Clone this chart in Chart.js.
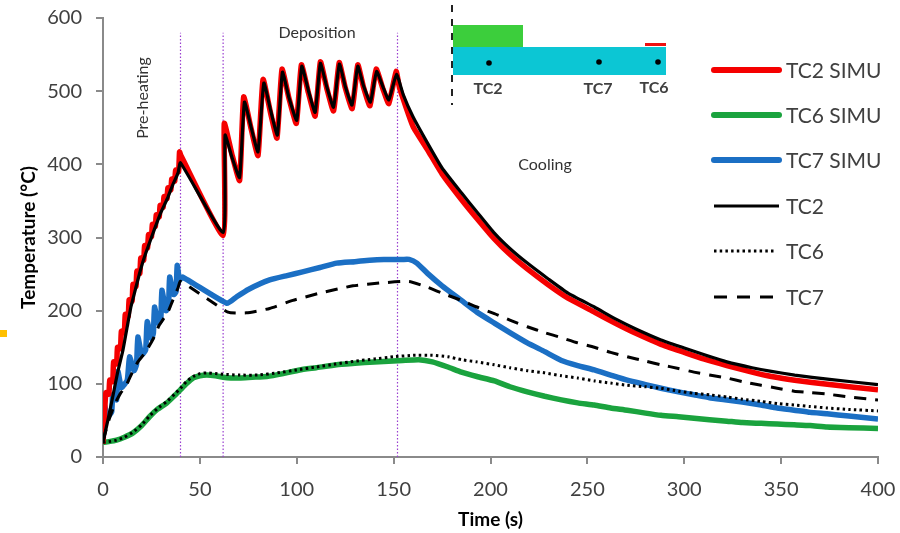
<!DOCTYPE html>
<html><head><meta charset="utf-8">
<script src="https://cdn.jsdelivr.net/npm/chart.js@4.4.1/dist/chart.umd.min.js"></script>
<style>html,body{margin:0;padding:0;background:#fff;}#wrap{position:relative;width:900px;height:533px;}</style>
</head><body><div id="wrap"><canvas id="c" width="900" height="533"></canvas></div>
<script>
// ---- data (time in s, temperature in °C) ----
const tc2SimuTime = [0,0.5,1.5,3,3.5,5,5.5,7,7.5,9,9.5,11,11.5,13,13.5,15,15.5,17,17.5,19,19.5,21,21.5,23,23.5,25,25.5,27,27.5,29,29.5,31,31.5,33,33.5,35,35.5,37,37.5,39,39.5,40.2,
  62,62.6,66.5,70.5,72.6,76.5,80,82.6,86.5,89.8,92.4,96,99.8,102.4,106,109.5,112.2,115.5,119,121.9,125,128.6,131.5,134.5,137.8,141,144.5,147.5,151.3,
  153,160,167.5,175,185,193,202,210,219,230,240,253.6,265,275,288,300,310,322,335,345,357,375,400];
const tc2SimuTemp = [18,45,88,86,105,103,130,127,150,148,172,170,195,192,215,213,236,233,254,251,272,269,289,286,304,301,318,315,331,328,344,341,356,353,368,365,380,377,392,390,417,412,
  303,456,414,378,492,448,412,516,470,436,530,490,456,536,498,466,540,504,473,539,505,476,536,505,480,530,503,483,527,
  505,452,420,387,352,326,298,277,257,235,217,198,182,169,154,143,134,125,116,110,105,99,92];

const tc2Time = [0,2.5,5,7.5,10.3,12.5,14.4,17,19.6,22,25,27.5,30,33.5,36,38.7,40,
  62,63,66.5,70.5,73,76.5,80,83,86.5,90,92.6,96,100,102.6,106,109.5,112.2,115.5,119,122,125,128.5,131.5,134.5,138,141.2,144.5,147.5,151.5,
  155,160,167.5,175,185,193,202,210,219,230,240,253.6,265,275,288,300,310,322,335,345,357,375,400];
const tc2Temp = [20,50,82,115,146,178,205,232,258,278,300,318,335,355,372,388,402,
  307,440,410,382,485,450,417,511,474,440,526,491,460,534,501,471,538,506,478,537,507,481,534,507,485,527,506,488,523,
  495,465,429,395,361,335,306,285,265,243,224,205,188,175,160,149,140,130,122,117,112,106,99];

const tc7SimuTime = [0,0.8,2.5,4.5,5,7,7.7,9.5,12.5,13.7,16,17.3,18,20,22,22.8,25,26,26.6,28.5,29.8,30.4,32.5,33.8,34.4,36.5,37.7,38.3,39.5,41,
  64,69,75,86,95,103,112,120.6,130,137.6,145,154.6,158,162,167.5,175,185,193,202,210,219,228,236.6,245,253.6,262,270.6,280,288,297,305,313,322,330,339.7,348,356.7,365,373.7,385,400];
const tc7SimuTemp = [45,70,55,62,85,78,117,95,105,137,118,126,164,140,146,185,162,169,205,183,187,228,200,205,246,222,226,262,242,246,
  210,219,229,242,248,253,259,265,267,269,270,270,270,265,251,234,214,198,183,170,156,144,132,125,119,112,105,99,94,89,85,81,78,75,71,67,64,61,59,56,52];

const tc7Time = [0,3,6,9,12,15,18,21,23,26,29,33.5,36,38.7,40,64.5,74,86,98,112,129,144,158,167.5,175,185,193,202,210,219,228,236.6,245,253.6,262,270.6,280,288,297,305,313,322,330,339.7,348,356.7,365,373.7,385,400];
const tc7Temp = [22,50,72,87,98,115,130,140,148,162,180,198,214,231,240,198,197,203,214,224,234,238,240,232,224,214,205,196,187,178,170,163,156,150,143,137,131,126,121,116,112,108,103,98,94,90,88,86,82,78];

const tc6SimuTime = [0,3,7,11,15.5,20,24,28,33,37,40,43,46.6,50,53.6,58,62,66,70.6,77,84.5,93,101.5,110,120.6,130,140,154.6,163,170,178,185,193,202,210,219,228,236.6,245,253.6,262,270.6,280,288,297,305,313,322,330,339.7,348,356.7,365,373.7,385,400];
const tc6SimuTemp = [20,21,23,27,33,43,55,65,74,84,92,100,108,111,112,111,109,108,108,109,110,114,119,122,126,128,130,132,133,130,123,116,110,104,96,89,83,78,74,71,67,64,60,57,55,53,51,49,47,46,45,44,43,41,40,39];

const tc6Time = [0,3,7,11,15.5,20,24,28,33,37,40,43,46.6,50,53.6,58,62,70,80,90,100,110,120,130,140,150,160,170,178,185,193,202,210,219,228,236.6,245,253.6,262,270.6,280,288,297,305,313,322,330,339.7,348,356.7,365,373.7,385,400];
const tc6Temp = [20,21,23,27,34,44,56,66,76,86,94,103,110,114,115,114,113,112,112,115,119,123,127,131,134,137,139,139,137,133,130,126,122,118,115,111,108,104,101,98,96,94,90,87,85,82,79,76,73,71,69,67,65,63];

const phaseTimes = [40, 62, 152];
const phaseTop = 580;
const xTicks = [0,50,100,150,200,250,300,350,400];
const yTicks = [0,100,200,300,400,500,600];
const seriesNames = ['TC2 SIMU','TC6 SIMU','TC7 SIMU','TC2','TC6','TC7'];

// ---- build ----
const pts = (ts, vs) => ts.map((t, i) => ({x: t, y: vs[i]}));
const RED = '#f50000', GREEN = '#1aa33e', BLUE = '#1b6fc4', BLK = '#000000';
const styles = {
  'TC2 SIMU': {color: RED, width: 5.5, dash: [], order: 5},
  'TC6 SIMU': {color: GREEN, width: 5.5, dash: [], order: 5},
  'TC7 SIMU': {color: BLUE, width: 5.5, dash: [], order: 5},
  'TC2': {color: BLK, width: 3.2, dash: [], order: 1},
  'TC6': {color: BLK, width: 3, dash: [2.5, 3.2], order: 1},
  'TC7': {color: BLK, width: 3, dash: [12, 9], order: 1}
};
const seriesData = {
  'TC2 SIMU': pts(tc2SimuTime, tc2SimuTemp),
  'TC6 SIMU': pts(tc6SimuTime, tc6SimuTemp),
  'TC7 SIMU': pts(tc7SimuTime, tc7SimuTemp),
  'TC2': pts(tc2Time, tc2Temp),
  'TC6': pts(tc6Time, tc6Temp),
  'TC7': pts(tc7Time, tc7Temp)
};
const datasets = seriesNames.map(n => ({
  label: n, data: seriesData[n], borderColor: styles[n].color, borderWidth: styles[n].width,
  borderDash: styles[n].dash, order: styles[n].order, pointRadius: 0, tension: 0.15,
  borderJoinStyle: 'round', borderCapStyle: 'butt', fill: false
}));
phaseTimes.forEach(t => datasets.push({
  label: '_phase', data: [{x: t, y: 0}, {x: t, y: phaseTop}], borderColor: '#9a3fd0',
  borderWidth: 1.2, borderDash: [1.5, 2], order: 10, pointRadius: 0, fill: false
}));

const FONT = 'Lato, "Open Sans", sans-serif';
const annot = {
  id: 'annot',
  afterDraw(chart) {
    const ctx = chart.ctx;
    ctx.save();
    ctx.fillStyle = '#333';
    ctx.font = '16px ' + FONT;
    ctx.textAlign = 'center'; ctx.textBaseline = 'middle';
    ctx.fillText('Deposition', 317, 33);
    ctx.fillText('Cooling', 545, 165);
    ctx.save(); ctx.translate(143, 98); ctx.rotate(-Math.PI / 2);
    ctx.fillText('Pre-heating', 0, 0); ctx.restore();
    // inset sketch
    ctx.fillStyle = '#3cce3c'; ctx.fillRect(453, 25, 70, 22);
    ctx.fillStyle = '#0cc6d4'; ctx.fillRect(453, 47, 213, 28);
    ctx.fillStyle = '#ee1111'; ctx.fillRect(645, 43, 21, 3);
    ctx.strokeStyle = '#222'; ctx.lineWidth = 2; ctx.setLineDash([7, 7]);
    ctx.beginPath(); ctx.moveTo(452, 5); ctx.lineTo(452, 105); ctx.stroke();
    ctx.setLineDash([]);
    ctx.fillStyle = '#000';
    [[489, 63], [599, 62], [658, 62]].forEach(p => { ctx.beginPath(); ctx.arc(p[0], p[1], 2.8, 0, Math.PI * 2); ctx.fill(); });
    ctx.fillStyle = '#404040'; ctx.font = 'bold 16px ' + FONT;
    ctx.fillText('TC2', 488, 89); ctx.fillText('TC7', 598, 89); ctx.fillText('TC6', 654, 88);
    // legend
    const ys = [70, 115, 160, 206, 251, 297];
    seriesNames.forEach((n, i) => {
      const s = styles[n];
      ctx.strokeStyle = s.color; ctx.lineWidth = s.width > 4 ? 6 : 3;
      ctx.lineCap = s.width > 4 ? 'round' : 'butt';
      ctx.setLineDash(n === 'TC6' ? [2.5, 3.2] : (n === 'TC7' ? [13, 10] : []));
      ctx.beginPath(); ctx.moveTo(714, ys[i]); ctx.lineTo(n === 'TC6' ? 775 : 779, ys[i]); ctx.stroke();
      ctx.setLineDash([]);
      ctx.fillStyle = '#404040'; ctx.font = '21px ' + FONT; ctx.textAlign = 'left';
      ctx.fillText(n, 786, ys[i] + 1);
      ctx.textAlign = 'center';
    });
    ctx.fillStyle = '#ffc000'; ctx.fillRect(0, 330, 7, 7);
    ctx.restore();
  }
};

new Chart(document.getElementById('c'), {
  type: 'line',
  data: {datasets},
  options: {
    responsive: false, animation: false, devicePixelRatio: 1,
    layout: {padding: {top: 18, right: 22, left: 0, bottom: 0}},
    plugins: {legend: {display: false}, tooltip: {enabled: false}},
    scales: {
      x: {
        type: 'linear', min: 0, max: 400,
        afterBuildTicks: s => { s.ticks = xTicks.map(v => ({value: v})); },
        afterFit: s => { s.height = 76; s.paddingRight = 0; s.paddingLeft = 0; },
        grid: {drawOnChartArea: false, drawTicks: true, tickLength: 7, color: '#8a8a8a', lineWidth: 2},
        border: {color: '#8a8a8a', width: 2},
        ticks: {color: '#404040', font: {family: FONT, size: 20}, padding: 14, maxRotation: 0},
        title: {display: true, text: 'Time (s)', color: '#000', font: {family: FONT, size: 19, weight: 'bold'}, padding: {top: 0, bottom: 2}}
      },
      y: {
        min: 0, max: 600,
        afterBuildTicks: s => { s.ticks = yTicks.map(v => ({value: v})); },
        afterFit: s => { s.width = 103; s.paddingTop = 0; s.paddingBottom = 0; },
        grid: {drawOnChartArea: false, drawTicks: true, tickLength: 7, color: '#8a8a8a', lineWidth: 2},
        border: {color: '#8a8a8a', width: 2},
        ticks: {color: '#404040', font: {family: FONT, size: 20}, padding: 14},
        title: {display: true, text: 'Temperature (°C)', color: '#000', font: {family: FONT, size: 19, weight: 'bold'}, padding: {top: 17, bottom: 0}}
      }
    }
  },
  plugins: [annot]
});
</script></body></html>
